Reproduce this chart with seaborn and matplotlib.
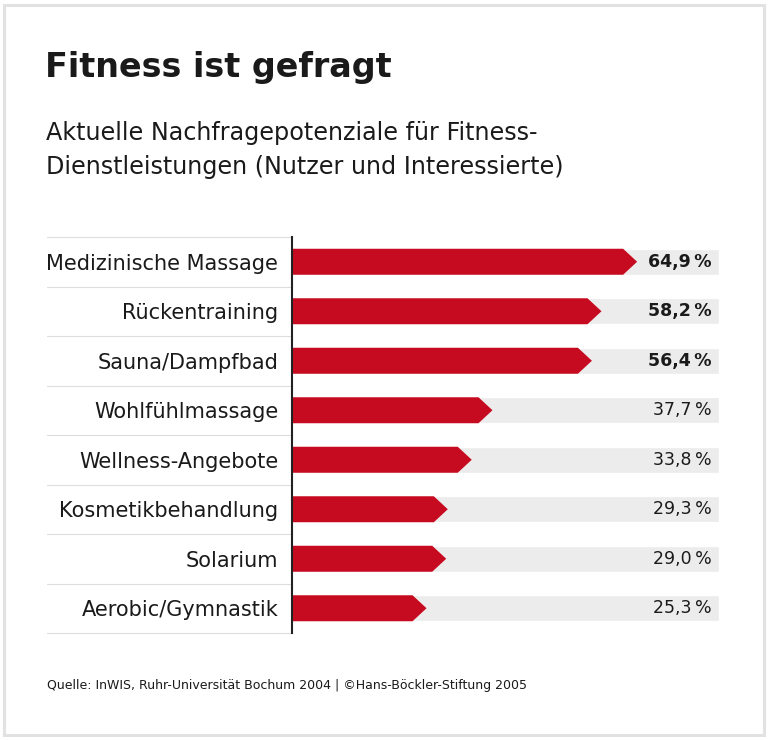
import matplotlib
matplotlib.use("Agg")
import matplotlib.pyplot as plt
import matplotlib.transforms as mtransforms
from matplotlib.patches import Polygon, Rectangle
import seaborn as sns
import pandas as pd

# ---- data ----
categories = ["Medizinische Massage", "Rückentraining", "Sauna/Dampfbad",
              "Wohlfühlmassage", "Wellness-Angebote", "Kosmetikbehandlung",
              "Solarium", "Aerobic/Gymnastik"]
values = [64.9, 58.2, 56.4, 37.7, 33.8, 29.3, 29.0, 25.3]
value_labels = ["64,9\u2009%", "58,2\u2009%", "56,4\u2009%", "37,7\u2009%",
                "33,8\u2009%", "29,3\u2009%", "29,0\u2009%", "25,3\u2009%"]
bold_flags = [True, True, True, False, False, False, False, False]

title = "Fitness ist gefragt"
subtitle1 = "Aktuelle Nachfragepotenziale für Fitness-"
subtitle2 = "Dienstleistungen (Nutzer und Interessierte)"
source = "Quelle: InWIS, Ruhr-Universität Bochum 2004 | ©Hans-Böckler-Stiftung 2005"

# ---- style ----
RED = "#c60a1f"
TRACK = "#ececec"
TEXT = "#1a1a1a"
W, H = 768, 740
XMAX = 80.3          # axis extent (track length)
ARROW_PX = 14        # arrow tip length in px

sns.set_theme(style="white")
plt.rcParams["font.family"] = ["DejaVu Sans"]

fig = plt.figure(figsize=(W / 100, H / 100), dpi=100)
fig.patch.set_facecolor("white")

ax_left, ax_right = 292, 719
ax_top, ax_bot = 237, 633
ax = fig.add_axes([ax_left / W, 1 - ax_bot / H, (ax_right - ax_left) / W, (ax_bot - ax_top) / H])

df = pd.DataFrame({"cat": categories, "val": values, "track": [XMAX] * len(values)})

sns.barplot(data=df, x="track", y="cat", orient="h", color=TRACK, width=0.525,
            saturation=1, ax=ax)
n_track = len(ax.patches)
sns.barplot(data=df, x="val", y="cat", orient="h", color=RED, width=0.525,
            saturation=1, ax=ax)

ax.set_xlim(0, XMAX)
ax.set_ylim(len(categories) - 0.5, -0.5)

# turn red rectangles into arrow shapes
px_per_unit = (ax_right - ax_left) / XMAX
a = ARROW_PX / px_per_unit
red_patches = ax.patches[n_track:]
for p in list(red_patches):
    x0, y0 = p.get_x(), p.get_y()
    w, h = p.get_width(), p.get_height()
    poly = Polygon([(x0, y0), (x0 + w - a, y0), (x0 + w, y0 + h / 2),
                    (x0 + w - a, y0 + h), (x0, y0 + h)], closed=True,
                   facecolor=RED, edgecolor="none", zorder=3)
    p.remove()
    ax.add_patch(poly)

ax.set_xlabel("")
ax.set_ylabel("")
ax.set_xticks([])
ax.tick_params(axis="y", length=0, pad=10, labelsize=15, labelcolor=TEXT)
for s in ["top", "right", "bottom"]:
    ax.spines[s].set_visible(False)
ax.spines["left"].set_color("#222222")
ax.spines["left"].set_linewidth(1.5)
ax.spines["left"].set_zorder(5)

# separator lines in the label area
trans = mtransforms.blended_transform_factory(ax.transAxes, ax.transData)
x_start = (47 - ax_left) / (ax_right - ax_left)
for i in range(len(categories) + 1):
    yb = i - 0.5
    ax.plot([x_start, 0], [yb, yb], transform=trans, color="#dddddd",
            lw=0.8, clip_on=False, zorder=1)

# value labels
x_lab = (712 - ax_left) / (ax_right - ax_left)
for i, (lab, b) in enumerate(zip(value_labels, bold_flags)):
    ax.text(x_lab, i, lab, transform=trans, ha="right", va="center",
            fontsize=12.5, color=TEXT, fontweight="bold" if b else "normal", zorder=6)

# titles
fig.text(45 / W, 1 - 77 / H, title, fontsize=24, fontweight="bold", color=TEXT, va="baseline")
fig.text(46 / W, 1 - 140 / H, subtitle1, fontsize=17.2, color=TEXT, va="baseline")
fig.text(46 / W, 1 - 174 / H, subtitle2, fontsize=17.2, color=TEXT, va="baseline")
fig.text(47 / W, 1 - 689 / H, source, fontsize=9.0, color=TEXT, va="baseline")

# light frame
fig.patches.append(Rectangle((4 / W, 5 / H), (W - 8) / W, (H - 10) / H,
                             transform=fig.transFigure, fill=False,
                             edgecolor="#e2e2e2", lw=2.2))

fig.savefig("out.png", dpi=100, facecolor="white")
